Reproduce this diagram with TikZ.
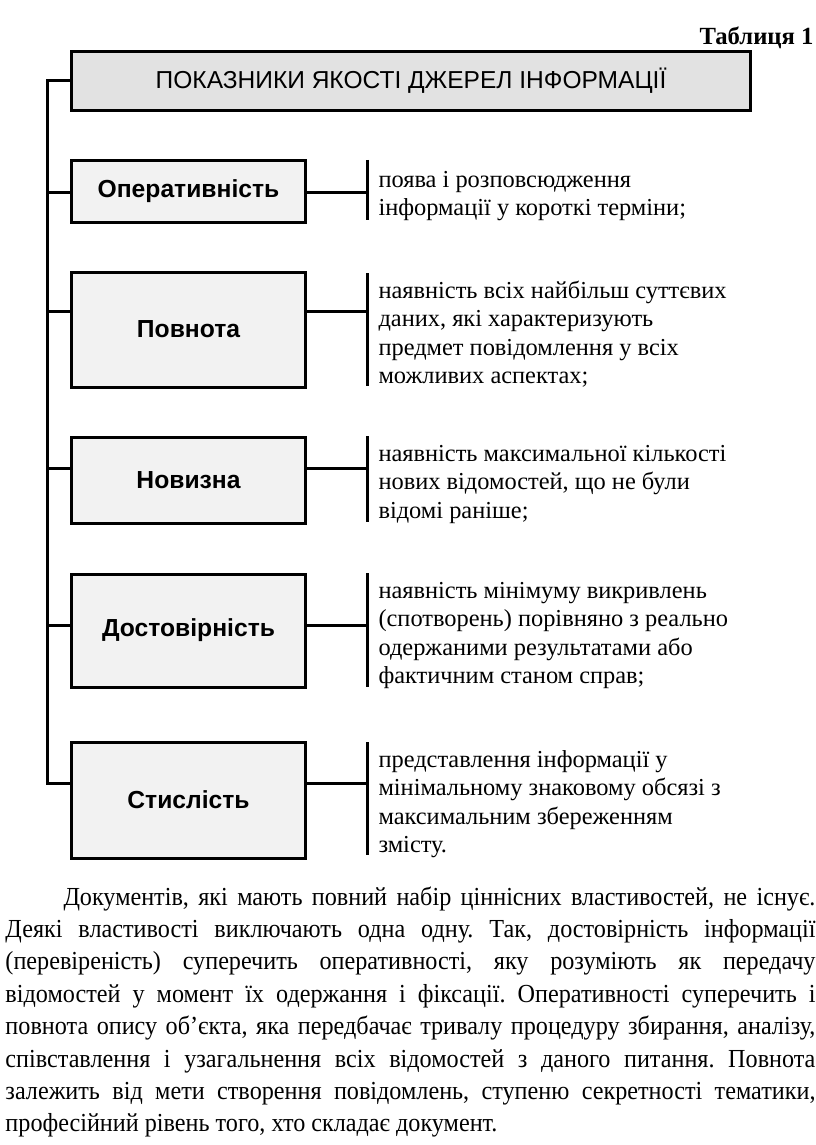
\documentclass[tikz,border=0pt]{standalone}
\usepackage{fontspec}
\setmainfont{Liberation Serif}
\newfontfamily\sansf{Liberation Sans}
\newfontfamily\condf[FakeStretch=0.93]{Liberation Serif}
\newdimen\px \px=0.75pt
\definecolor{titlegray}{HTML}{E2E2E2}
\definecolor{boxgray}{HTML}{F2F2F2}
\frenchspacing
\begin{document}
\begin{tikzpicture}[x=0.75pt,y=-0.75pt,line width=2.25pt,
  lab/.style={draw,fill=boxgray,minimum width=234\px,inner sep=0,
    font=\sansf\bfseries\fontsize{18.5}{22}\selectfont},
  desc/.style={anchor=base west,inner sep=0,
    font=\fontsize{18.3}{21.4}\selectfont},
  conn/.style={line width=2.25pt}]
\useasboundingbox (0,0) rectangle (816,1145);
% caption
\node[anchor=base east,inner sep=0,font=\bfseries\fontsize{18.5}{22}\selectfont] (cap) at (815,45) {Таблиця 1};
% title
\node[draw,fill=titlegray,minimum width=679\px,minimum height=59\px,inner sep=0,
  font=\sansf\fontsize{18.4}{22}\selectfont] (title) at (411,81) {ПОКАЗНИКИ ЯКОСТІ ДЖЕРЕЛ ІНФОРМАЦІЇ};
% boxes
\node[lab,minimum height=61\px] (b1) at (188.5,191.5) {Оперативність};
\node[lab,minimum height=115\px] (b2) at (188.5,329.5) {Повнота};
\node[lab,minimum height=86\px] (b3) at (188.5,480) {Новизна};
\node[lab,minimum height=113\px] (b4) at (188.5,630.5) {Достовірність};
\node[lab,minimum height=116\px] (b5) at (188.5,800) {Стислість};
% connector levels
\coordinate (l0) at (47,81);
\coordinate (l1) at (47,192);  \coordinate (r1) at (367,192);
\coordinate (l2) at (47,311);  \coordinate (r2) at (367,311);
\coordinate (l3) at (47,468);  \coordinate (r3) at (367,468);
\coordinate (l4) at (47,625);  \coordinate (r4) at (367,625);
\coordinate (l5) at (47,783);  \coordinate (r5) at (367,783);
% spine
\draw[conn] (title.west) -- (l0) -- (l5) -- (b5.west |- l5);
\foreach \i in {1,2,3,4}{\draw[conn] (l\i) -- (b\i.west |- l\i);}
\foreach \i in {1,2,3,4,5}{\draw[conn] (b\i.east |- r\i) -- (r\i);}
% brackets
\coordinate (t1) at (367,160); \coordinate (e1) at (367,220);
\coordinate (t2) at (367,273); \coordinate (e2) at (367,386);
\coordinate (t3) at (367,436); \coordinate (e3) at (367,522);
\coordinate (t4) at (367,573); \coordinate (e4) at (367,687);
\coordinate (t5) at (367,742); \coordinate (e5) at (367,855);
\foreach \i in {1,...,5}{\draw[conn] (t\i) -- (e\i);}
% descriptions
\node[desc] (d1) at (377,187) {\parbox[t]{430\px}{\raggedright поява і розповсюдження\\інформації у короткі терміни;}};
\node[desc] (d2) at (377,298) {\parbox[t]{430\px}{\raggedright наявність всіх найбільш суттєвих\\даних, які характеризують\\предмет повідомлення у всіх\\можливих аспектах;}};
\node[desc] (d3) at (377,461) {\parbox[t]{430\px}{\raggedright наявність максимальної кількості\\нових відомостей, що не були\\відомі раніше;}};
\node[desc] (d4) at (377,598) {\parbox[t]{430\px}{\raggedright наявність мінімуму викривлень\\(спотворень) порівняно з реально\\одержаними результатами або\\фактичним станом справ;}};
\node[desc] (d5) at (377,767) {\parbox[t]{430\px}{\raggedright представлення інформації у\\мінімальному знаковому обсязі з\\максимальним збереженням\\змісту.}};
% paragraph
\node[anchor=base west,inner sep=0] (para) at (4,905) {\parbox[t]{810\px}{\condf\fontsize{19.5}{24.3}\selectfont
\hbox to\linewidth{\hspace*{58\px}Документів, які мають повний набір ціннісних властивостей, не існує.}
\hbox to\linewidth{Деякі властивості виключають одна одну. Так, достовірність інформації}
\hbox to\linewidth{(перевіреність) суперечить оперативності, яку розуміють як передачу}
\hbox to\linewidth{відомостей у момент їх одержання і фіксації. Оперативності суперечить і}
\hbox to\linewidth{повнота опису об’єкта, яка передбачає тривалу процедуру збирання, аналізу,}
\hbox to\linewidth{співставлення і узагальнення всіх відомостей з даного питання. Повнота}
\hbox to\linewidth{залежить від мети створення повідомлень, ступеню секретності тематики,}
\hbox{професійний рівень того, хто складає документ.}}};
\end{tikzpicture}
\end{document}
